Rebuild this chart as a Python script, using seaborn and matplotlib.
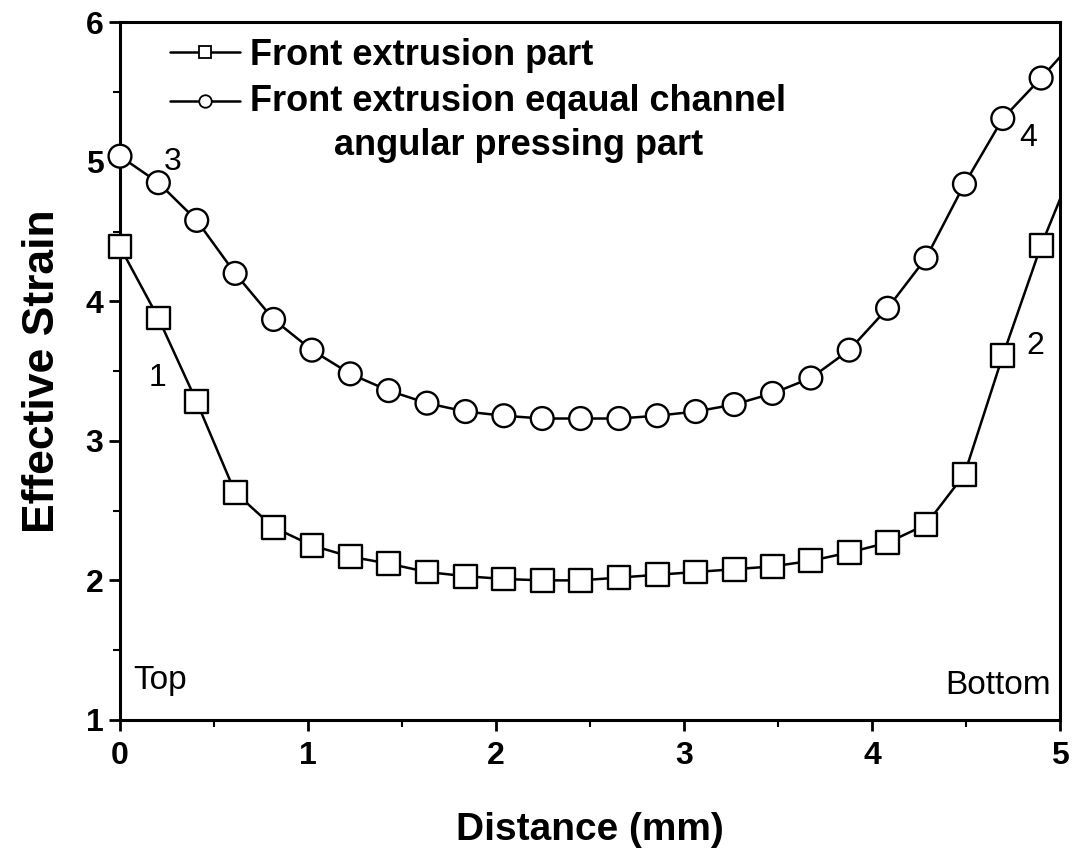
import numpy as np
import pandas as pd
import matplotlib
matplotlib.use("Agg")
import matplotlib.pyplot as plt
from matplotlib.lines import Line2D
from matplotlib.ticker import MultipleLocator
import seaborn as sns

# ---- data ----
distance = [0.0, 0.204, 0.408, 0.6125, 0.817, 1.021, 1.225, 1.429, 1.633, 1.8375,
            2.042, 2.246, 2.45, 2.654, 2.858, 3.0625, 3.267, 3.471, 3.675, 3.879,
            4.083, 4.2875, 4.492, 4.696, 4.9]
front_extrusion = [4.39, 3.88, 3.28, 2.63, 2.38, 2.25, 2.17, 2.12, 2.06, 2.03,
                   2.01, 2.00, 2.00, 2.02, 2.04, 2.06, 2.08, 2.10, 2.14, 2.20,
                   2.27, 2.40, 2.76, 3.61, 4.40]
front_ecap = [5.04, 4.85, 4.58, 4.20, 3.87, 3.65, 3.48, 3.36, 3.27, 3.21,
              3.18, 3.16, 3.16, 3.16, 3.18, 3.21, 3.26, 3.34, 3.45, 3.65,
              3.95, 4.31, 4.84, 5.31, 5.60]
# curve continues to the right frame edge (no marker there)
edge_x = 5.0
front_extrusion_edge = 4.73
front_ecap_edge = 5.75

labels = ["Front extrusion part",
          "Front extrusion eqaual channel\nangular pressing part"]
x_ticks = [0, 1, 2, 3, 4, 5]
y_ticks = [1, 2, 3, 4, 5, 6]

# ---- style ----
sns.set_theme(style="ticks")
plt.rcParams['font.family'] = ['Liberation Sans', 'DejaVu Sans']
for k in ['text.color', 'axes.labelcolor', 'xtick.color', 'ytick.color', 'axes.edgecolor']:
    plt.rcParams[k] = 'black'
plt.rcParams['axes.linewidth'] = 2.2

fig = plt.figure(figsize=(10.86, 8.55), dpi=100)
ax = fig.add_axes([0.1105, 0.158, 0.8655, 0.816])

line_df = pd.DataFrame({
    "Distance": distance + [edge_x] + distance + [edge_x],
    "Strain": front_extrusion + [front_extrusion_edge] + front_ecap + [front_ecap_edge],
    "Series": [labels[0]] * (len(distance) + 1) + [labels[1]] * (len(distance) + 1),
})
pts_df = pd.DataFrame({
    "Distance": distance + distance,
    "Strain": front_extrusion + front_ecap,
    "Series": [labels[0]] * len(distance) + [labels[1]] * len(distance),
})

sns.lineplot(data=line_df, x="Distance", y="Strain", hue="Series",
             palette=["black", "black"], linewidth=1.8, legend=False,
             sort=True, ax=ax, zorder=2, clip_on=False)
sns.scatterplot(data=pts_df, x="Distance", y="Strain", style="Series",
                markers={labels[0]: "s", labels[1]: "o"},
                s=270, color="white", edgecolor="black", linewidth=1.7,
                legend=False, ax=ax, zorder=3, clip_on=False)

ax.set_xlim(0, 5)
ax.set_ylim(1, 6)
ax.set_xticks(x_ticks)
ax.set_yticks(y_ticks)
ax.xaxis.set_minor_locator(MultipleLocator(0.5))
ax.yaxis.set_minor_locator(MultipleLocator(0.5))
ax.tick_params(which="major", direction="out", length=8, width=2,
               labelsize=23, pad=7)
ax.tick_params(axis="y", which="major", pad=4)
ax.tick_params(which="minor", direction="out", length=5, width=1.5)
for lab in ax.get_xticklabels() + ax.get_yticklabels():
    lab.set_fontweight("bold")
for s in ax.spines.values():
    s.set_visible(True)
    s.set_linewidth(2.2)
    s.set_color("black")

ax.set_xlabel("Distance (mm)", fontsize=28, fontweight="bold", labelpad=30)
ax.set_ylabel("Effective Strain", fontsize=32, fontweight="bold", labelpad=16)

# annotations
ax.text(0.28, 5.0, "3", fontsize=23, ha="center", va="center")
ax.text(0.20, 3.45, "1", fontsize=23, ha="center", va="center")
ax.text(4.83, 5.17, "4", fontsize=23, ha="center", va="center")
ax.text(4.87, 3.68, "2", fontsize=23, ha="center", va="center")
ax.text(0.07, 1.28, "Top", fontsize=24, ha="left", va="center")
ax.text(4.95, 1.25, "Bottom", fontsize=24, ha="right", va="center")

handles = [
    Line2D([], [], color="black", linewidth=1.8, marker="s", markersize=9,
           markerfacecolor="white", markeredgecolor="black", markeredgewidth=1.3),
    Line2D([], [], color="black", linewidth=1.8, marker="o", markersize=9,
           markerfacecolor="white", markeredgecolor="black", markeredgewidth=1.3),
]
leg = ax.legend(handles, labels, loc="upper left", bbox_to_anchor=(0.053, 0.978),
                frameon=False, borderaxespad=0, borderpad=0,
                handlelength=1.95, handletextpad=0.28,
                labelspacing=0.32, prop={"size": 26, "weight": "bold"})
for t in leg.get_texts():
    t.set_multialignment("center")
    t.set_linespacing(1.32)
# put the second legend symbol level with the first line of its two-line label
h2 = leg.legend_handles[1]
h2.set_ydata(np.asarray(h2.get_ydata(), dtype=float) + 17)

fig.savefig("out.png", dpi=100)
